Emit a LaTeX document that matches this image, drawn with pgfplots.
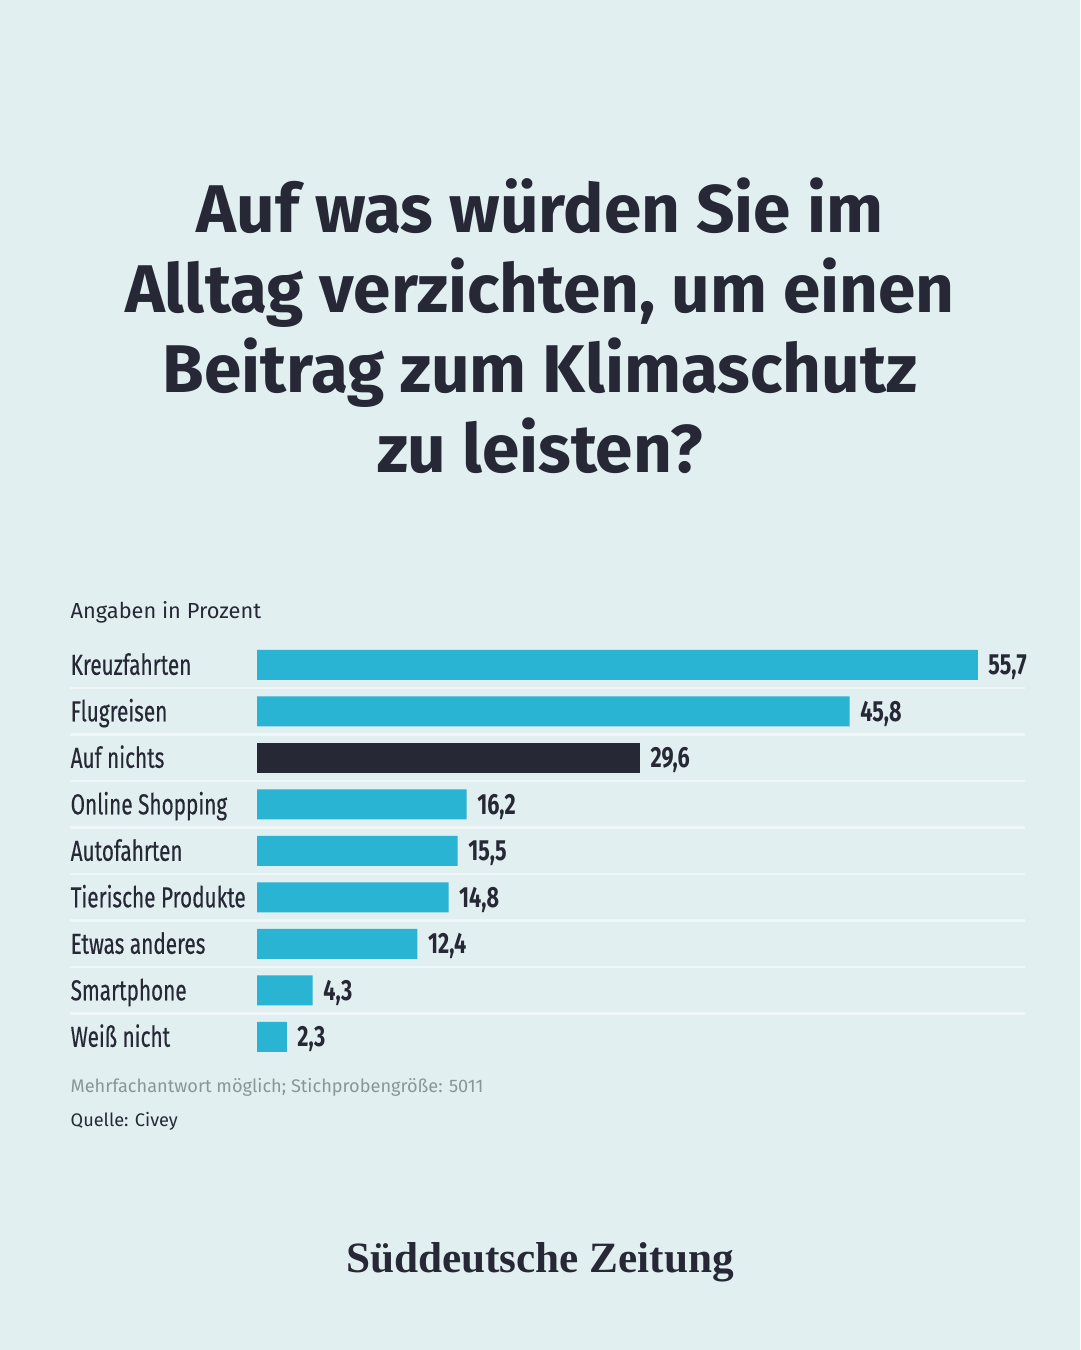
\documentclass[border=0pt]{standalone}
\usepackage{fontspec}
\setmainfont{Fira Sans}
\newfontfamily\condfont{Fira Sans}[FakeStretch=0.72,FakeBold=0.35]
\newfontfamily\numfont{Fira Sans}[FakeStretch=0.74]
\newfontfamily\logofont{Liberation Serif}
\usepackage{pgfplots}
\pgfplotsset{compat=1.18}
\definecolor{szbg}{HTML}{E2EFF0}
\definecolor{szcyan}{HTML}{29B4D4}
\definecolor{szdark}{HTML}{262836}
\definecolor{szgrey}{HTML}{8A9599}
\begin{document}
\begin{tikzpicture}[x=0.1mm,y=0.1mm]
\fill[szbg] (0,0) rectangle (1080,1350);
\useasboundingbox (0,0) rectangle (1080,1350);
% title
\node[align=center, text=szdark, font=\fontsize{19.2}{22.8}\selectfont\bfseries] at (540,1024)
  {Auf was würden Sie im\\Alltag verzichten, um einen\\Beitrag zum Klimaschutz\\zu leisten?};
\node[anchor=west, text=szdark, font=\fontsize{6.2}{7}\selectfont, inner sep=0] at (70,738) {Angaben in Prozent};
\begin{axis}[
  at={(25.7mm,29mm)}, anchor=south west, scale only axis,
  width=76.8mm, height=41.85mm,
  xmin=0, xmax=59.35, ymin=-0.5, ymax=8.5, y dir=reverse,
  clip=false,
  axis line style={draw=none}, major tick style={draw=none},
  xtick=\empty,
  ytick={0,...,8},
  yticklabels={Kreuzfahrten,Flugreisen,Auf nichts,Online Shopping,Autofahrten,Tierische Produkte,Etwas anderes,Smartphone,Weiß nicht},
  yticklabel style={anchor=base west, xshift=-17.2mm, yshift=-1mm, inner sep=0, text=szdark,
    font=\condfont\fontsize{8.2}{10}\selectfont},
  xbar, bar width=3mm, bar shift=0pt,
  nodes near coords,
  nodes near coords style={anchor=base west, inner sep=0, xshift=1mm, yshift=-1mm, text=szdark,
    font=\numfont\bfseries\fontsize{8.3}{10}\selectfont,
    /pgf/number format/.cd, use comma, fixed, fixed zerofill, precision=1, assume math mode=true},
]
\foreach \yy in {0.5,1.5,...,7.5}{
  \edef\tmp{\noexpand\draw[white!45!szbg, line width=0.7pt] (axis cs:-14.45,\yy) -- (axis cs:59.35,\yy);}
  \tmp
}
\addplot[fill=szcyan, draw=none] coordinates {(55.7,0) (45.8,1) (16.2,3) (15.5,4) (14.8,5) (12.4,6) (4.3,7) (2.3,8)};
\addplot[fill=szdark, draw=none] coordinates {(29.6,2)};
\end{axis}
\node[anchor=west, text=szgrey, font=\fontsize{5.17}{6}\selectfont, inner sep=0] at (70,263) {Mehrfachantwort möglich; Stichprobengröße: 5011};
\node[anchor=west, text=szdark, font=\fontsize{5.17}{6}\selectfont, inner sep=0] at (70,229) {Quelle: Civey};
\node[text=szdark, font=\logofont\bfseries\fontsize{12.3}{14}\selectfont] at (540,88) {Süddeutsche Zeitung};
\end{tikzpicture}
\end{document}
